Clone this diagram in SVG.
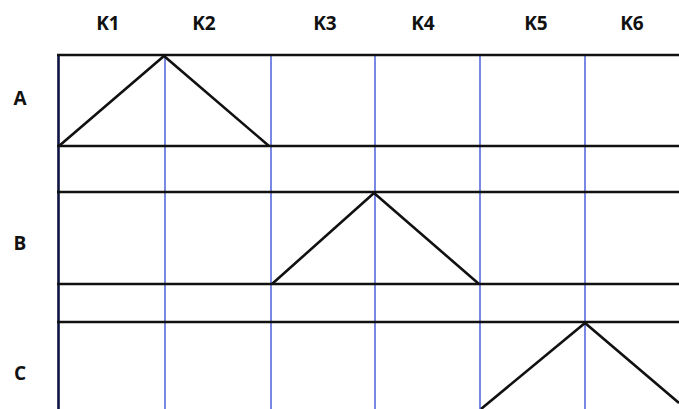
<svg xmlns="http://www.w3.org/2000/svg" width="679" height="409" viewBox="0 0 679 409">
<style>
.lbl{font-family:"Open Sans","Liberation Sans",sans-serif;font-weight:bold;font-size:19px;fill:#111;text-anchor:middle}
.blue{stroke:#3f55d6;stroke-width:1.4;fill:none}
.blk{stroke:#111;stroke-width:2.6;fill:none;stroke-linejoin:miter}
</style>
<rect width="679" height="409" fill="#fff"/>
<g id="labels">
<text class="lbl" x="108" y="30">K1</text>
<text class="lbl" x="204" y="30">K2</text>
<text class="lbl" x="325" y="30">K3</text>
<text class="lbl" x="423" y="30">K4</text>
<text class="lbl" x="536" y="30">K5</text>
<text class="lbl" x="632" y="30">K6</text>
<text class="lbl" x="20" y="105">A</text>
<text class="lbl" x="20" y="250">B</text>
<text class="lbl" x="20" y="380">C</text>
</g>
<g id="grid">
<line class="blue" x1="165" y1="55" x2="165" y2="409"/>
<line class="blue" x1="271" y1="55" x2="271" y2="409"/>
<line class="blue" x1="375" y1="55" x2="375" y2="409"/>
<line class="blue" x1="480" y1="55" x2="480" y2="409"/>
<line class="blue" x1="585" y1="55" x2="585" y2="409"/>
<line stroke="#0e1440" stroke-width="2.6" x1="58.5" y1="54" x2="58.5" y2="409"/>
<line class="blk" x1="57" y1="55" x2="679" y2="55"/>
<line class="blk" x1="57" y1="146" x2="679" y2="146"/>
<line class="blk" x1="57" y1="192" x2="679" y2="192"/>
<line class="blk" x1="57" y1="284" x2="679" y2="284"/>
<line class="blk" x1="57" y1="322" x2="679" y2="322"/>
</g>
<g id="triangles">
<polyline class="blk" points="59,146 164,56 269,146"/>
<polyline class="blk" points="272,284 374,193 479,284"/>
<polyline class="blk" points="481,409 585,323 679,403"/>
</g>
</svg>
